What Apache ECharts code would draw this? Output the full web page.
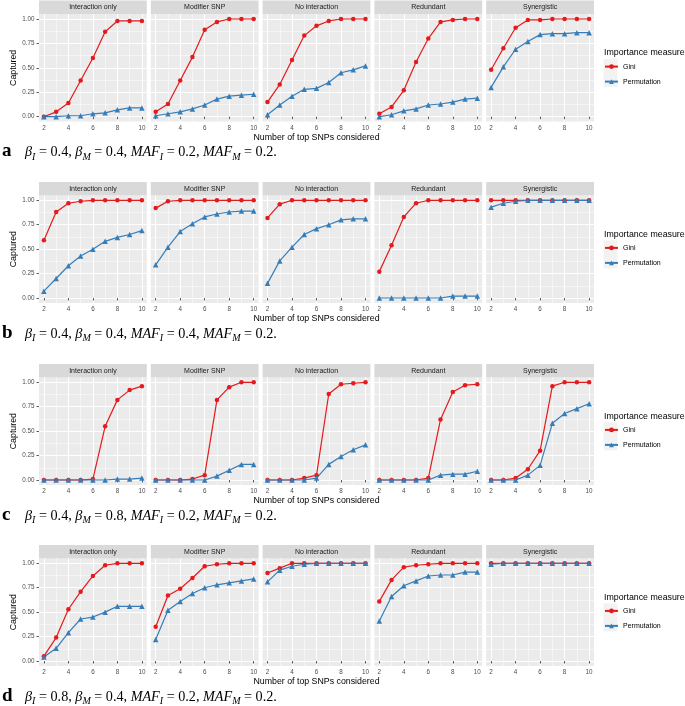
<!DOCTYPE html>
<html><head><meta charset="utf-8">
<script src="https://cdn.jsdelivr.net/npm/echarts@6/dist/echarts.min.js"></script>
<style>html,body{margin:0;padding:0;background:#fff}#c{width:685px;height:706px}</style>
</head><body><div id="c"></div>
<script>
const facets = ['Interaction only','Modifier SNP','No interaction','Redundant','Synergistic'];
const topK = [2,3,4,5,6,7,8,9,10];
const xTicks = [2,4,6,8,10];
const xMinor = [3,5,7,9];
const yTicks = [0,0.25,0.5,0.75,1];
const yMinor = [0.125,0.375,0.625,0.875];
const measures = ['Gini','Permutation'];
const panelLetters = ['a','b','c','d'];
const betaI = ['0.4','0.4','0.4','0.8'];
const betaM = ['0.4','0.4','0.8','0.4'];
const mafI = ['0.2','0.4','0.2','0.2'];
const mafM = ['0.2','0.2','0.2','0.2'];

const giniA = [
  [0.00,0.05,0.14,0.37,0.60,0.87,0.98,0.98,0.98],
  [0.05,0.13,0.37,0.61,0.89,0.97,1.00,1.00,1.00],
  [0.15,0.33,0.58,0.83,0.93,0.98,1.00,1.00,1.00],
  [0.03,0.10,0.27,0.56,0.80,0.97,0.99,1.00,1.00],
  [0.48,0.70,0.91,0.99,0.99,1.00,1.00,1.00,1.00]
];
const permA = [
  [0.00,0.00,0.01,0.01,0.03,0.04,0.07,0.09,0.09],
  [0.01,0.03,0.05,0.08,0.12,0.18,0.21,0.22,0.23],
  [0.02,0.12,0.21,0.28,0.29,0.35,0.45,0.48,0.52],
  [0.00,0.02,0.06,0.08,0.12,0.13,0.15,0.18,0.19],
  [0.30,0.51,0.69,0.77,0.84,0.85,0.85,0.86,0.86]
];
const giniB = [
  [0.59,0.88,0.97,0.99,1,1,1,1,1],
  [0.92,0.99,1,1,1,1,1,1,1],
  [0.82,0.96,1,1,1,1,1,1,1],
  [0.27,0.54,0.83,0.97,1,1,1,1,1],
  [1,1,1,1,1,1,1,1,1]
];
const permB = [
  [0.07,0.20,0.33,0.43,0.50,0.58,0.62,0.65,0.69],
  [0.34,0.52,0.68,0.76,0.83,0.86,0.88,0.89,0.89],
  [0.15,0.38,0.52,0.65,0.71,0.75,0.80,0.81,0.81],
  [0,0,0,0,0,0,0.02,0.02,0.02],
  [0.93,0.97,0.99,1,1,1,1,1,1]
];
const giniC = [
  [0,0,0,0,0.01,0.55,0.82,0.92,0.96],
  [0,0,0,0.01,0.05,0.82,0.95,1,1],
  [0,0,0,0.02,0.05,0.88,0.98,0.99,1],
  [0,0,0,0,0.02,0.62,0.90,0.97,0.98],
  [0,0,0.02,0.11,0.30,0.96,1,1,1]
];
const permC = [
  [0,0,0,0,0,0,0.01,0.01,0.02],
  [0,0,0,0,0,0.04,0.10,0.16,0.16],
  [0,0,0,0,0.02,0.16,0.24,0.31,0.36],
  [0,0,0,0,0,0.05,0.06,0.06,0.09],
  [0,0,0,0.05,0.15,0.58,0.68,0.73,0.78]
];
const giniD = [
  [0.05,0.24,0.53,0.71,0.87,0.98,1,1,1],
  [0.35,0.67,0.74,0.85,0.97,0.99,1,1,1],
  [0.90,0.95,1,1,1,1,1,1,1],
  [0.61,0.83,0.96,0.98,0.99,1,1,1,1],
  [1,1,1,1,1,1,1,1,1]
];
const permD = [
  [0.04,0.13,0.29,0.43,0.45,0.50,0.56,0.56,0.56],
  [0.22,0.52,0.61,0.69,0.75,0.78,0.80,0.82,0.84],
  [0.81,0.93,0.97,0.99,1,1,1,1,1],
  [0.41,0.66,0.77,0.82,0.87,0.88,0.88,0.91,0.91],
  [0.99,1,1,1,1,1,1,1,1]
];

const giniRows = [giniA, giniB, giniC, giniD];
const permRows = [permA, permB, permC, permD];

// ---- layout / style ----
const SANS = '"Liberation Sans", Arial, sans-serif';
const SERIF = '"Liberation Serif", "DejaVu Serif", serif';
const L0 = 39, STEP = 111.8, W = 107.8, H = 107.5;
const TOPS = [14.1, 195.4, 377.4, 558.4];
const STRIP_H = 13.5;
const RED = '#e41a1c', BLUE = '#377eb8';

const grids = [], xAxes = [], yAxes = [], series = [], graphics = [], legends = [];

TOPS.forEach((top, r) => {
  facets.forEach((fname, f) => {
    const g = r * 5 + f;
    const left = L0 + f * STEP;
    grids.push({left: left, top: top, width: W, height: H, show: true,
      backgroundColor: '#ebebeb', borderWidth: 0, containLabel: false});
    xAxes.push({type: 'value', gridIndex: g, min: 1.6, max: 10.4, position: 'bottom',
      axisLine: {show: false},
      axisTick: {show: true, length: 2.5, lineStyle: {color: '#333', width: 0.8}, customValues: xTicks},
      axisLabel: {show: true, customValues: xTicks, fontSize: 6.3, color: '#4d4d4d', margin: 3.5, fontFamily: SANS},
      splitLine: {show: true, lineStyle: {color: '#ffffff', width: 1}},
      name: f === 2 ? 'Number of top SNPs considered' : '', nameLocation: 'middle', nameGap: 11,
      nameTextStyle: {fontSize: 8.8, color: '#000', fontFamily: SANS}
    });
    xAxes.push({type: 'value', gridIndex: g, min: 1.6, max: 10.4, position: 'top',
      axisLine: {show: false},
      axisTick: {show: false, customValues: xMinor},
      axisLabel: {show: false, customValues: xMinor},
      splitLine: {show: true, lineStyle: {color: '#ffffff', width: 0.5}}
    });
    yAxes.push({type: 'value', gridIndex: g, min: -0.05, max: 1.05, position: 'left',
      axisLine: {show: false},
      axisTick: {show: f === 0, length: 2.5, lineStyle: {color: '#333', width: 0.8}, customValues: yTicks},
      axisLabel: {show: f === 0, customValues: yTicks, fontSize: 6.3, color: '#4d4d4d', margin: 4.5, fontFamily: SANS,
        formatter: v => Number(v).toFixed(2)},
      splitLine: {show: true, lineStyle: {color: '#ffffff', width: 1}},
      name: f === 0 ? 'Captured' : '', nameLocation: 'middle', nameGap: 21,
      nameTextStyle: {fontSize: 8.8, color: '#000', fontFamily: SANS}
    });
    yAxes.push({type: 'value', gridIndex: g, min: -0.05, max: 1.05, position: 'right',
      axisLine: {show: false},
      axisTick: {show: false, customValues: yMinor},
      axisLabel: {show: false, customValues: yMinor},
      splitLine: {show: true, lineStyle: {color: '#ffffff', width: 0.5}}
    });
    series.push({type: 'line', name: measures[0], xAxisIndex: 2 * g, yAxisIndex: 2 * g,
      data: topK.map((k, i) => [k, giniRows[r][f][i]]),
      color: RED, lineStyle: {width: 1.2, color: RED}, itemStyle: {color: RED},
      symbol: 'circle', symbolSize: 4.5, showAllSymbol: true, z: 3});
    series.push({type: 'line', name: measures[1], xAxisIndex: 2 * g, yAxisIndex: 2 * g,
      data: topK.map((k, i) => [k, permRows[r][f][i]]),
      color: BLUE, lineStyle: {width: 1.2, color: BLUE}, itemStyle: {color: BLUE},
      symbol: 'triangle', symbolSize: 5.5, showAllSymbol: true, z: 3});
    graphics.push({type: 'rect', shape: {x: left, y: top - STRIP_H, width: W, height: STRIP_H},
      style: {fill: '#d9d9d9'}, silent: true});
    graphics.push({type: 'text', x: left + W / 2, y: top - STRIP_H / 2,
      style: {text: fname, fill: '#1a1a1a', fontSize: 7, fontFamily: SANS, align: 'center', verticalAlign: 'middle'},
      silent: true});
  });
  graphics.push({type: 'text', x: 604, y: top + 38.7,
    style: {text: 'Importance measure', fill: '#000', fontSize: 8.8, fontFamily: SANS, align: 'left', verticalAlign: 'middle'}});
  graphics.push({type: 'rect', shape: {x: 603.5, y: top + 52 - 7, width: 14, height: 28},
    style: {fill: '#f2f2f2'}, silent: true});
  legends.push({data: measures, orient: 'vertical', left: 604, top: top + 49, padding: 0,
    itemWidth: 13, itemHeight: 6, itemGap: 8, selectedMode: false,
    textStyle: {fontSize: 7, color: '#000', fontFamily: SANS}});
  const base = top + 142.9;
  graphics.push({type: 'text', x: 2, y: base + 4,
    style: {text: panelLetters[r], fill: '#000', font: 'bold 19px ' + SERIF, align: 'left', verticalAlign: 'bottom'}});
  const rich = {
    v: {fontFamily: SERIF, fontStyle: 'italic', fontSize: 14.2, lineHeight: 14.2, padding: [0,0,3,0], verticalAlign: 'bottom', fill: '#000'},
    n: {fontFamily: SERIF, fontSize: 14.2, lineHeight: 14.2, padding: [0,0,3,0], verticalAlign: 'bottom', fill: '#000'},
    s: {fontFamily: SERIF, fontStyle: 'italic', fontSize: 10, lineHeight: 10, verticalAlign: 'bottom', fill: '#000'}
  };
  const txt = '{v|β}{s|I}{n| = ' + betaI[r] + ', }{v|β}{s|M}{n| = ' + betaM[r] + ', }{v|MAF}{s|I}{n| = ' +
    mafI[r] + ', }{v|MAF}{s|M}{n| = ' + mafM[r] + '.}';
  graphics.push({type: 'text', x: 25, y: base + 5.5,
    style: {text: txt, rich: rich, align: 'left', verticalAlign: 'bottom', fill: '#000'}});
});

const chart = echarts.init(document.getElementById('c'), null, {renderer: 'canvas'});
chart.setOption({
  animation: false,
  backgroundColor: '#ffffff',
  grid: grids, xAxis: xAxes, yAxis: yAxes, series: series,
  legend: legends,
  graphic: graphics
});
</script></body></html>
